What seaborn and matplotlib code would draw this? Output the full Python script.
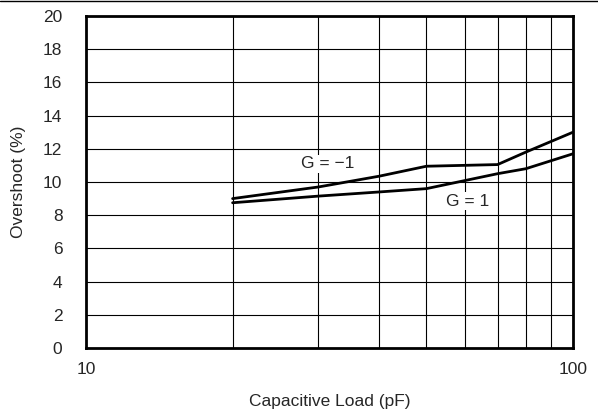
import matplotlib.pyplot as plt
import pandas as pd
import seaborn as sns
from matplotlib.lines import Line2D

cap_load = [20, 30, 40, 50, 70, 80, 100]
overshoot_g_neg1 = [9.0, 9.7, 10.35, 10.95, 11.05, 11.8, 13.0]
overshoot_g_pos1 = [8.75, 9.15, 9.4, 9.6, 10.5, 10.8, 11.7]

y_ticks = list(range(0, 21, 2))
x_minor = [20, 30, 40, 50, 60, 70, 80, 90]

sns.set_style("white")
plt.rcParams["font.family"] = ["Liberation Sans", "DejaVu Sans"]

df = pd.concat([
    pd.DataFrame({"cap": cap_load, "os": overshoot_g_neg1, "gain": "G = \u22121"}),
    pd.DataFrame({"cap": cap_load, "os": overshoot_g_pos1, "gain": "G = 1"}),
])

fig = plt.figure(figsize=(5.98, 4.11), dpi=100)
ax = fig.add_axes([86 / 598, 63 / 411, 487 / 598, 332 / 411])

ax.set_xscale("log")
ax.set_xlim(10, 100)
ax.set_ylim(0, 20)

# grid
for v in x_minor:
    ax.axvline(v, color="black", lw=0.8, zorder=1)
for v in y_ticks[1:-1]:
    ax.axhline(v, color="black", lw=0.8, zorder=1)

sns.lineplot(
    data=df,
    x="cap",
    y="os",
    hue="gain",
    palette=["black", "black"],
    linewidth=2,
    legend=False,
    ax=ax,
    zorder=3,
)

fs = 12.5
ax.text(31.4, 11.1, "G = \u22121", ha="center", va="center", fontsize=fs,
        bbox=dict(facecolor="white", edgecolor="none", pad=1), zorder=2)
ax.text(60.9, 8.85, "G = 1", ha="center", va="center", fontsize=fs,
        bbox=dict(facecolor="white", edgecolor="none", pad=1), zorder=2)

ax.set_xticks([10, 100])
ax.set_xticklabels(["10", "100"])
ax.set_xticks([], minor=True)
ax.set_yticks(y_ticks)
ax.tick_params(axis="both", length=0, labelsize=fs)
ax.tick_params(axis="x", pad=10)
ax.tick_params(axis="y", pad=17)

for s in ax.spines.values():
    s.set_linewidth(2)
    s.set_color("black")
    s.set_visible(True)

ax.set_xlabel("Capacitive Load (pF)", fontsize=fs, labelpad=12)
ax.set_ylabel("Overshoot (%)", fontsize=fs, labelpad=12)

fig.add_artist(Line2D([0, 1], [0.997, 0.997], color="black", lw=1,
                      transform=fig.transFigure))

fig.savefig("out.png", dpi=100)
